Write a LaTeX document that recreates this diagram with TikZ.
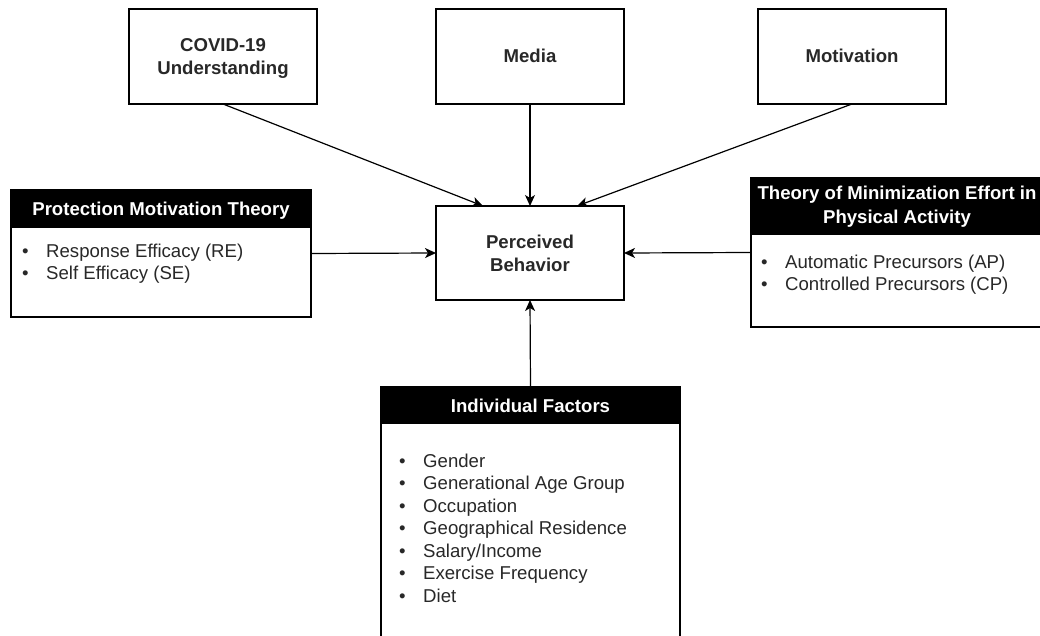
\documentclass[tikz,border=0pt]{standalone}
\usepackage{fontspec}
\setmainfont{Liberation Sans}
\usetikzlibrary{arrows.meta}
\definecolor{txtgray}{RGB}{40,40,40}
\newcommand\fs{\fontsize{18.6}{22.8}\selectfont}
\newcommand\bul{\llap{\makebox[24pt][l]{•}}}
\begin{document}
\begin{tikzpicture}[x=1pt,y=-1pt,
  box/.style={draw, line width=1.2pt, inner sep=0pt, outer sep=0pt, fill=white},
  head/.style={draw, fill=black, line width=1.2pt, inner sep=0pt, outer sep=0pt},
  txt/.style={anchor=base, inner sep=0pt, font=\fs\bfseries, text=txtgray},
  ttl/.style={anchor=base, inner sep=0pt, font=\fs\bfseries, text=white},
  lst/.style={anchor=base west, inner sep=0pt, font=\fs, text=txtgray},
  arr/.style={line width=1.2pt, -{Stealth[length=11pt,width=10pt,inset=3pt]}}]
\useasboundingbox (0,0) rectangle (1040,636);
\fill[white] (0,0) rectangle (1040,636);

% top boxes
\node[box, minimum width=188pt, minimum height=95pt] (covid) at (223,56.5) {};
\node[txt] (covidt1) at (223,51.7) {COVID-19};
\node[txt] (covidt2) at (223,75) {Understanding};
\node[box, minimum width=188pt, minimum height=95pt] (media) at (530,56.5) {};
\node[txt] (mediat) at (530,63) {Media};
\node[box, minimum width=188pt, minimum height=95pt] (motiv) at (852,56.5) {};
\node[txt] (motivt) at (852,63) {Motivation};

% central box
\node[box, minimum width=188pt, minimum height=94pt] (pb) at (530,253) {};
\node[txt] (pbt1) at (530,248) {Perceived};
\node[txt] (pbt2) at (530,271) {Behavior};

% Protection Motivation Theory
\node[box, minimum width=300pt, minimum height=127pt] (pmt) at (161,253.5) {};
\node[head, minimum width=300pt, minimum height=37pt, anchor=north] (pmth) at (pmt.north) {};
\node[ttl] (pmtt) at (161,215) {Protection Motivation Theory};
\node[lst] (pmtl) at (46,257) {\parbox[t]{250pt}{\fs\leavevmode\bul Response Efficacy (RE)\\\bul Self Efficacy (SE)}};

% Theory of Minimization Effort
\node[box, minimum width=294pt, minimum height=149pt] (tme) at (898,252.5) {};
\node[head, minimum width=294pt, minimum height=56pt, anchor=north] (tmeh) at (tme.north) {};
\node[ttl] (tmet1) at (897,200) {Theory of Minimization Effort in};
\node[ttl] (tmet2) at (897,223) {Physical Activity};
\node[lst] (tmel) at (785,268) {\parbox[t]{250pt}{\fs\leavevmode\bul Automatic Precursors (AP)\\\bul Controlled Precursors (CP)}};

% Individual Factors
\node[box, minimum width=299pt, minimum height=263pt] (indf) at (530.5,518.5) {};
\node[head, minimum width=299pt, minimum height=36pt, anchor=north] (indfh) at (indf.north) {};
\node[ttl] (indft) at (530.5,412) {Individual Factors};
\node[lst] (indfl) at (423,467) {\parbox[t]{250pt}{\fontsize{18.6}{22.5}\selectfont\leavevmode\bul Gender\\\bul Generational Age Group\\\bul Occupation\\\bul Geographical Residence\\\bul Salary/Income\\\bul Exercise Frequency\\\bul Diet}};

% connectors
\draw[arr] (covid.south) -- ([xshift=47pt]pb.north west);
\draw[arr] (media.south) -- (pb.north);
\draw[arr] (motiv.south) -- ([xshift=-47pt]pb.north east);
\draw[arr] (pmt.east) -- (pb.west);
\draw[arr] (tme.west) -- (pb.east);
\draw[arr] (indfh.north) -- (pb.south);
\end{tikzpicture}
\end{document}
